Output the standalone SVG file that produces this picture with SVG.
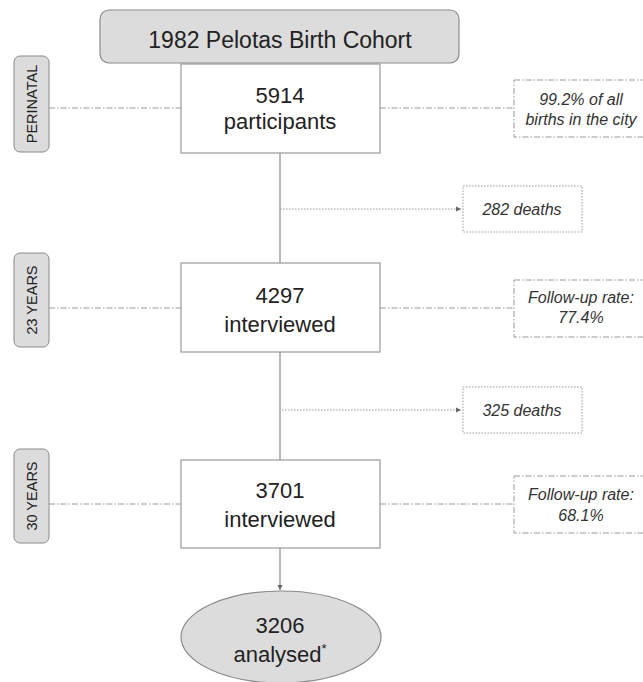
<svg xmlns="http://www.w3.org/2000/svg" width="643" height="682" viewBox="0 0 643 682">
<style>
.main{font-family:"Liberation Sans",Arial,sans-serif;fill:#222;text-anchor:middle}
.note{font-family:"Liberation Sans",Arial,sans-serif;font-style:italic;font-size:16px;fill:#333;text-anchor:middle}
.pill{fill:#dcdcdc;stroke:#8a8a8a;stroke-width:1}
.pilltxt{font-family:"Liberation Sans",Arial,sans-serif;font-size:14.5px;fill:#222;text-anchor:middle}
.box{fill:#fff;stroke:#9a9a9a;stroke-width:1.2}
.dashdot{fill:none;stroke:#9a9a9a;stroke-width:1;stroke-dasharray:6 2 1.5 2}
.dotted{fill:none;stroke:#9a9a9a;stroke-width:1;stroke-dasharray:1.5 1.5}
.solid{fill:none;stroke:#8c8c8c;stroke-width:1.2}
</style>
<defs>
<marker id="ah" markerWidth="6" markerHeight="6" refX="5" refY="3" orient="auto" markerUnits="userSpaceOnUse">
<path d="M0,0.5 L5,3 L0,5.5 Z" fill="#666"/>
</marker>
</defs>
<g id="connectors">
<line class="solid" x1="280" y1="153" x2="280" y2="263"/>
<line class="solid" x1="280" y1="352" x2="280" y2="460"/>
<line class="solid" x1="280" y1="548" x2="280" y2="590" marker-end="url(#ah)"/>
<line class="dotted" x1="280" y1="209" x2="461" y2="209" marker-end="url(#ah)"/>
<line class="dotted" x1="282" y1="410" x2="461" y2="410" marker-end="url(#ah)"/>
<line class="dashdot" x1="49" y1="108" x2="181" y2="108"/>
<line class="dashdot" x1="380" y1="108" x2="514" y2="108"/>
<line class="dashdot" x1="49" y1="308" x2="181" y2="308"/>
<line class="dashdot" x1="380" y1="308" x2="514" y2="308"/>
<line class="dashdot" x1="49" y1="504" x2="181" y2="504"/>
<line class="dashdot" x1="380" y1="504" x2="514" y2="504"/>
</g>
<g id="title">
<rect x="100" y="10" width="359" height="53" rx="9" fill="#dcdcdc" stroke="#8a8a8a" stroke-width="1.2"/>
<text class="main" x="280" y="48" font-size="23">1982 Pelotas Birth Cohort</text>
</g>
<g id="perinatal-label">
<rect class="pill" x="14" y="56" width="35" height="96" rx="6"/>
<text class="pilltxt" transform="translate(36.5,104) rotate(-90)">PERINATAL</text>
</g>
<g id="y23-label">
<rect class="pill" x="14" y="253" width="35" height="94" rx="6"/>
<text class="pilltxt" transform="translate(36.5,300) rotate(-90)">23 YEARS</text>
</g>
<g id="y30-label">
<rect class="pill" x="14" y="449" width="35" height="94" rx="6"/>
<text class="pilltxt" transform="translate(36.5,496) rotate(-90)">30 YEARS</text>
</g>
<g id="participants">
<rect class="box" x="181" y="64" width="199" height="89"/>
<text class="main" x="280" y="103" font-size="22">5914</text>
<text class="main" x="280" y="129" font-size="22">participants</text>
</g>
<g id="interviewed23">
<rect class="box" x="181" y="263" width="199" height="89"/>
<text class="main" x="280" y="303" font-size="22">4297</text>
<text class="main" x="280" y="332" font-size="22">interviewed</text>
</g>
<g id="interviewed30">
<rect class="box" x="181" y="460" width="199" height="88"/>
<text class="main" x="280" y="498" font-size="22">3701</text>
<text class="main" x="280" y="527" font-size="22">interviewed</text>
</g>
<g id="analysed">
<ellipse cx="281" cy="637" rx="100" ry="46" fill="#dcdcdc" stroke="#8a8a8a" stroke-width="1.2"/>
<text class="main" x="280" y="633" font-size="22">3206</text>
<text class="main" x="280" y="662" font-size="22">analysed<tspan font-size="13" dy="-9">*</tspan></text>
</g>
<g id="births-note">
<rect class="dashdot" x="514" y="80" width="134" height="57"/>
<text class="note" x="581" y="105">99.2% of all</text>
<text class="note" x="581" y="125">births in the city</text>
</g>
<g id="deaths1">
<rect class="dotted" x="463" y="186" width="119" height="46"/>
<text class="note" x="522" y="215">282 deaths</text>
</g>
<g id="followup23">
<rect class="dashdot" x="514" y="280" width="134" height="57"/>
<text class="note" x="581" y="303">Follow-up rate:</text>
<text class="note" x="581" y="323">77.4%</text>
</g>
<g id="deaths2">
<rect class="dotted" x="463" y="387" width="119" height="46"/>
<text class="note" x="522" y="416">325 deaths</text>
</g>
<g id="followup30">
<rect class="dashdot" x="514" y="476" width="134" height="57"/>
<text class="note" x="581" y="500">Follow-up rate:</text>
<text class="note" x="581" y="521">68.1%</text>
</g>
</svg>
